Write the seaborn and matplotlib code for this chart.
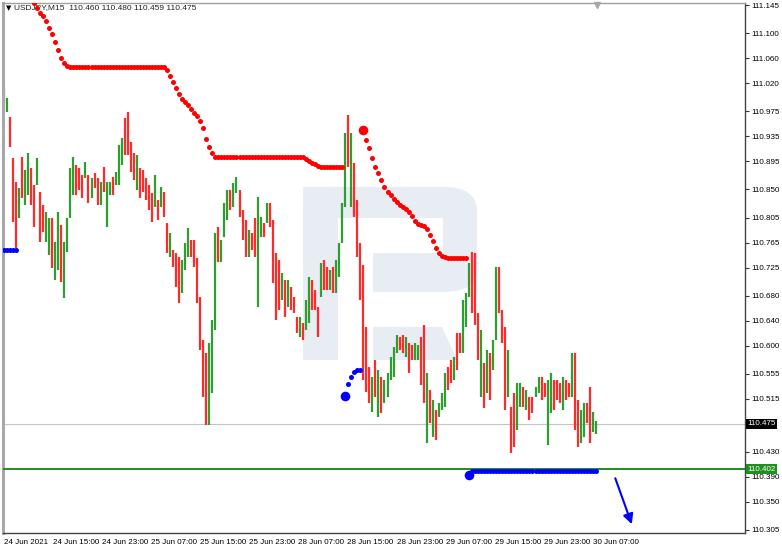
import numpy as np
import pandas as pd
import matplotlib
matplotlib.use("Agg")
import matplotlib.pyplot as plt
import seaborn as sns
from matplotlib.patches import Rectangle, Polygon, FancyBboxPatch

sns.set_theme(style="white")
plt.rcParams['font.family'] = ['Liberation Sans', 'DejaVu Sans']

#DATOS: maximos y minimos de cada barra (USDJPY)
maximos = [
    111.014, 110.996, 110.966, 110.900, 110.862, 110.852, 110.902, 110.881, 110.908, 110.884,
    110.857, 110.900, 110.846, 110.825, 110.814, 110.804, 110.804, 110.766, 110.814, 110.793,
    110.766, 110.804, 110.884, 110.902, 110.889, 110.884, 110.873, 110.894, 110.873, 110.868,
    110.876, 110.868, 110.862, 110.886, 110.862, 110.862, 110.870, 110.878, 110.921, 110.932,
    110.964, 110.974, 110.926, 110.908, 110.905, 110.884, 110.881, 110.868, 110.857, 110.844,
    110.873, 110.833, 110.854, 110.846, 110.796, 110.780, 110.753, 110.748, 110.742, 110.737,
    110.764, 110.788, 110.769, 110.769, 110.740, 110.678, 110.609, 110.588, 110.604, 110.641,
    110.780, 110.790, 110.769, 110.828, 110.849, 110.849, 110.860, 110.870, 110.849, 110.817,
    110.801, 110.785, 110.780, 110.804, 110.838, 110.806, 110.796, 110.828, 110.828, 110.801,
    110.748, 110.737, 110.716, 110.705, 110.705, 110.694, 110.678, 110.646, 110.646, 110.636,
    110.673, 110.710, 110.705, 110.689, 110.662, 110.732, 110.737, 110.726, 110.721, 110.726,
    110.737, 110.764, 110.828, 110.940, 110.969, 110.940, 110.892, 110.833, 110.764, 110.729,
    110.630, 110.566, 110.550, 110.577, 110.561, 110.550, 110.545, 110.556, 110.582, 110.598,
    110.617, 110.614, 110.617, 110.614, 110.604, 110.601, 110.604, 110.601, 110.614, 110.633,
    110.556, 110.529, 110.513, 110.497, 110.508, 110.524, 110.556, 110.566, 110.577, 110.582,
    110.620, 110.620, 110.673, 110.684, 110.732, 110.750, 110.748, 110.652, 110.625, 110.572,
    110.593, 110.588, 110.609, 110.726, 110.726, 110.657, 110.630, 110.593, 110.502, 110.524,
    110.540, 110.540, 110.534, 110.529, 110.518, 110.518, 110.534, 110.550, 110.550, 110.540,
    110.545, 110.556, 110.545, 110.545, 110.540, 110.550, 110.545, 110.540, 110.588, 110.588,
    110.513, 110.497, 110.508, 110.508, 110.534, 110.494, 110.480,
]

minimos = [
    110.985, 110.974, 110.918, 110.798, 110.756, 110.804, 110.836, 110.825, 110.841, 110.825,
    110.790, 110.857, 110.766, 110.782, 110.766, 110.745, 110.724, 110.705, 110.721, 110.702,
    110.676, 110.750, 110.804, 110.841, 110.841, 110.849, 110.836, 110.868, 110.828, 110.836,
    110.852, 110.825, 110.825, 110.846, 110.790, 110.841, 110.841, 110.857, 110.857, 110.889,
    110.905, 110.905, 110.878, 110.865, 110.849, 110.836, 110.846, 110.833, 110.817, 110.798,
    110.822, 110.801, 110.822, 110.806, 110.748, 110.742, 110.726, 110.694, 110.668, 110.684,
    110.721, 110.742, 110.742, 110.726, 110.668, 110.593, 110.518, 110.473, 110.473, 110.524,
    110.625, 110.734, 110.734, 110.774, 110.801, 110.817, 110.822, 110.844, 110.806, 110.769,
    110.742, 110.742, 110.753, 110.742, 110.662, 110.774, 110.774, 110.796, 110.790, 110.700,
    110.641, 110.657, 110.673, 110.646, 110.662, 110.657, 110.652, 110.620, 110.614, 110.609,
    110.625, 110.636, 110.657, 110.657, 110.614, 110.678, 110.689, 110.689, 110.689, 110.684,
    110.684, 110.710, 110.764, 110.822, 110.886, 110.822, 110.806, 110.742, 110.673, 110.545,
    110.526, 110.508, 110.494, 110.518, 110.486, 110.492, 110.508, 110.518, 110.545, 110.550,
    110.588, 110.593, 110.588, 110.582, 110.556, 110.577, 110.577, 110.577, 110.537, 110.508,
    110.444, 110.476, 110.454, 110.449, 110.486, 110.497, 110.502, 110.529, 110.540, 110.545,
    110.561, 110.588, 110.588, 110.630, 110.678, 110.652, 110.633, 110.577, 110.518, 110.500,
    110.524, 110.513, 110.561, 110.609, 110.652, 110.604, 110.497, 110.518, 110.428, 110.438,
    110.465, 110.502, 110.502, 110.497, 110.481, 110.492, 110.518, 110.524, 110.513, 110.518,
    110.441, 110.492, 110.497, 110.513, 110.508, 110.497, 110.513, 110.518, 110.518, 110.465,
    110.438, 110.444, 110.454, 110.476, 110.444, 110.462, 110.459,
]

#u = barra alcista, d = barra bajista
direccion = ("duddduduud" "dudduuduud" "uuuudddudu" "dduduuduuu" "dddduddddd"
             "ududdudddu" "uudddddduu" "uduuuduudd" "dudduududd" "ddududddud"
             "uuddduddud" "uuuududddd" "ddududuuuu" "uddudduudd" "ududuuuddu"
             "dduuudddud" "uduudddudd" "uududduudd" "uuddduddud" "duudduu")

#parabolic SAR (indice de barra donde empieza cada tramo)
sar_azul_1_inicio = 0
sar_azul_1 = [110.753] * 5

sar_rojo_1_inicio = 9
sar_rojo_1 = ([111.153, 111.148, 111.140, 111.132, 111.127, 111.119, 111.108, 111.099,
               111.086, 111.073, 111.060, 111.052, 111.047]
              + [111.046] * 32
              + [111.041, 111.031, 111.022, 111.012, 111.003, 110.995, 110.990, 110.985,
                 110.979, 110.972, 110.967, 110.959, 110.948, 110.931, 110.918, 110.908,
                 110.902]
              + [110.902] * 29
              + [110.899, 110.895, 110.892, 110.891, 110.887]
              + [110.886] * 8)

sar_azul_2_inicio = 113
sar_azul_2 = [110.519, 110.539, 110.550, 110.558, 110.561, 110.561]

sar_rojo_2_inicio = 119
sar_rojo_2 = ([110.945, 110.929, 110.916, 110.900, 110.886, 110.876, 110.865, 110.854,
               110.846, 110.841, 110.835, 110.830, 110.825, 110.822, 110.819, 110.814,
               110.807, 110.799, 110.795, 110.793, 110.791, 110.787, 110.777, 110.767,
               110.756, 110.748, 110.743, 110.742]
              + [110.740] * 7)

sar_azul_3_inicio = 154
sar_azul_3 = [110.393] + [110.399] * 42

#etiquetas de tiempo y precios
etiquetas_x = ["24 Jun 2021", "24 Jun 15:00", "24 Jun 23:00", "25 Jun 07:00", "25 Jun 15:00",
               "25 Jun 23:00", "28 Jun 07:00", "28 Jun 15:00", "28 Jun 23:00", "29 Jun 07:00",
               "29 Jun 15:00", "29 Jun 23:00", "30 Jun 07:00"]
ticks_y = [111.145, 111.100, 111.060, 111.020, 110.975, 110.935, 110.895, 110.850, 110.805,
           110.765, 110.725, 110.680, 110.640, 110.600, 110.555, 110.515, 110.475, 110.430,
           110.390, 110.350, 110.305]
precio_actual = 110.475
nivel_verde = 110.402
titulo = "USDJPY,M15  110.460 110.480 110.459 110.475"

#posiciones en barras de M15
pos = np.linspace(0, 386, len(maximos))

fig = plt.figure(figsize=(7.82, 5.49), dpi=100)
ax = fig.add_axes([3 / 782, 16 / 549, 742 / 782, 530 / 549])

#logo de fondo (R)
gris_logo = "#e8ecf3"
ax.add_patch(FancyBboxPatch((0.4043, 0.4547), 0.2345, 0.1981,
                            boxstyle="round,pad=0,rounding_size=0.045",
                            fc=gris_logo, ec="none", transform=ax.transAxes, zorder=0))
ax.add_patch(Rectangle((0.4515, 0.5283), 0.1415, 0.0660, fc="white", ec="none",
                       transform=ax.transAxes, zorder=0.2))
ax.add_patch(Rectangle((0.4515, 0.4547), 0.0472, 0.0736, fc="white", ec="none",
                       transform=ax.transAxes, zorder=0.2))
ax.add_patch(Rectangle((0.4043, 0.3264), 0.0472, 0.3264, fc=gris_logo, ec="none",
                       transform=ax.transAxes, zorder=0.3))
ax.add_patch(Polygon([(0.4987, 0.3887), (0.5916, 0.3887), (0.6119, 0.3264), (0.4987, 0.3264)],
                     closed=True, fc=gris_logo, ec="none", transform=ax.transAxes, zorder=0.3))

#barras
colores = ["#ff2a2a" if c == "d" else "#2e9e2e" for c in direccion]
ax.vlines(pos, minimos, maximos, colors=colores, lw=1.6, zorder=2)

#lineas horizontales
ax.axhline(precio_actual, color="#c4c4c4", lw=0.8, zorder=1)
ax.axhline(nivel_verde, color="#1f8f1f", lw=1.4, zorder=3)

#SAR
tramos = [
    (sar_azul_1_inicio, sar_azul_1, "#0000ff", False),
    (sar_rojo_1_inicio, sar_rojo_1, "#ff0000", False),
    (sar_azul_2_inicio, sar_azul_2, "#0000ff", True),
    (sar_rojo_2_inicio, sar_rojo_2, "#ff0000", True),
    (sar_azul_3_inicio, sar_azul_3, "#0000ff", True),
]
for inicio, valores, color, punto_grande in tramos:
    df_sar = pd.DataFrame({"x": pos[inicio:inicio + len(valores)], "y": valores})
    sns.scatterplot(data=df_sar, x="x", y="y", color=color, s=13, linewidth=0,
                    ax=ax, zorder=4, legend=False)
    if punto_grande:
        ax.scatter(df_sar["x"].iloc[0], df_sar["y"].iloc[0], color=color, s=48,
                   linewidth=0, zorder=5)

#flecha de pronostico
ax.annotate("", xy=(410, 110.310), xytext=(398, 110.392),
            arrowprops=dict(arrowstyle="-|>,head_length=0.5,head_width=0.25",
                            color="#0000ff", lw=1.5), zorder=5)

#ejes
ax.set_xlim(-0.6, 483.2)
ax.set_ylim(110.3002, 111.1482)
ax.set_xticks(np.arange(len(etiquetas_x)) * 32)
ax.set_xticklabels(etiquetas_x)
for lbl in ax.get_xticklabels():
    lbl.set_ha("left")
ax.yaxis.tick_right()
ax.set_yticks(ticks_y)
#la etiqueta del precio actual la tapa la caja negra
ax.set_yticklabels(["" if v == precio_actual else f"{v:.3f}" for v in ticks_y])
ax.tick_params(axis="both", which="major", length=3, width=0.8, color="#333333",
               labelsize=5.8, labelcolor="black", direction="out")
ax.tick_params(axis="x", pad=1.5)
ax.tick_params(axis="y", pad=1.5)
ax.set_xlabel("")
ax.set_ylabel("")

for lado, color, ancho in [("top", "#a0a0a0", 1.0), ("left", "#a8a8a8", 2.2),
                          ("bottom", "#444444", 1.0), ("right", "#444444", 1.0)]:
    ax.spines[lado].set_visible(True)
    ax.spines[lado].set_color(color)
    ax.spines[lado].set_linewidth(ancho)

#cajas de precio a la derecha
trans = ax.get_yaxis_transform()
ax.text(1.003, precio_actual, "110.475", transform=trans, ha="left", va="center",
        fontsize=5.8, color="white", zorder=10, clip_on=False,
        bbox=dict(boxstyle="square,pad=0.2", fc="black", ec="none"))
ax.text(1.003, nivel_verde, "110.402", transform=trans, ha="left", va="center",
        fontsize=5.8, color="white", zorder=10, clip_on=False,
        bbox=dict(boxstyle="square,pad=0.2", fc="#1f8f1f", ec="none"))

#titulo del grafico
ax.text(0.004, 0.991, "\u25bc", transform=ax.transAxes, fontsize=5, va="center",
        ha="left", color="black", zorder=1, family=["DejaVu Sans"])
ax.text(0.015, 0.991, titulo, transform=ax.transAxes, fontsize=6, va="center",
        ha="left", color="#222222", zorder=1)

#marcador de desplazamiento arriba
ax.plot(0.8005, 0.996, marker="v", color="#a8a8a8", ms=5, transform=ax.transAxes,
        clip_on=False, zorder=6)

fig.savefig("out.png", dpi=100, facecolor="white")
